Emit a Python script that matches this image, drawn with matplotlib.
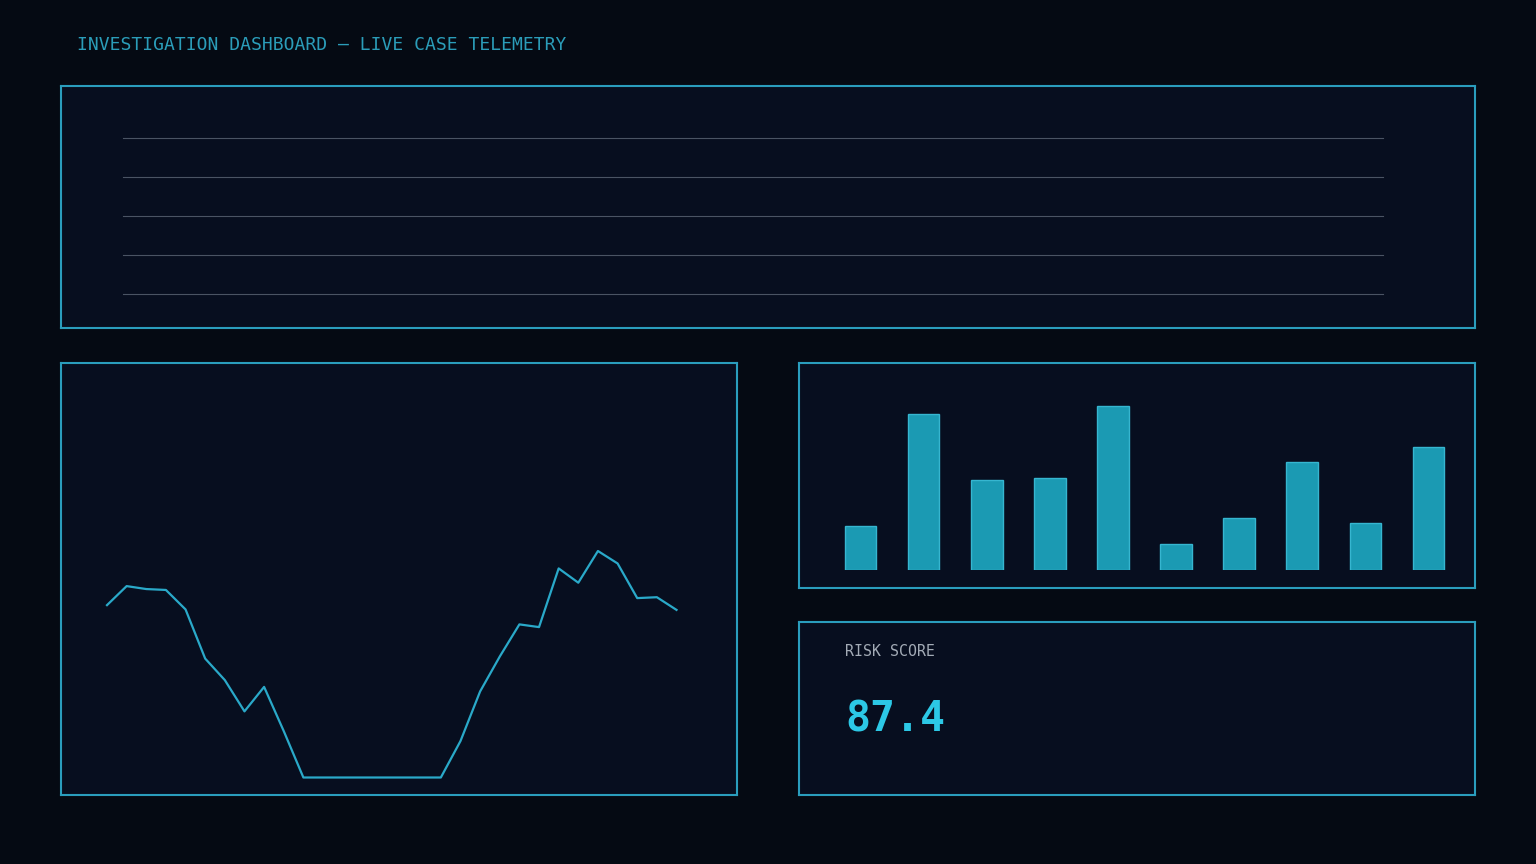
import matplotlib
matplotlib.use("Agg")
import matplotlib.pyplot as plt

W, H = 1536, 864

# data
trend_values = [76.1, 84.5, 83.2, 82.8, 74.2, 52.5, 43.0, 29.2, 40.0, 20.5,
                0, 0, 0, 0, 0, 0, 0, 0, 16.1, 38.0,
                53.4, 67.6, 66.4, 92.3, 86.0, 100.0, 94.5, 79.2, 79.6, 74.0]
bar_values = [27, 95, 55, 56, 100, 16, 32, 66, 29, 75]
grid_levels = [0, 1, 2, 3, 4]
title = "INVESTIGATION DASHBOARD \u2014 LIVE CASE TELEMETRY"
kpi_label = "RISK SCORE"
kpi_value = "87.4"

BG = "#050a13"
PANEL = "#070e1f"
BORDER = "#2a9dbd"
ACCENT = "#2aa9c9"
TITLE_C = "#2b9db9"
BAR = "#1b9ab3"
BAR_EDGE = "#36b6d0"
GRID = "#4a5363"
MONO = ["DejaVu Sans Mono"]


def rect(x0, y0, x1, y1):
    return [x0 / W, 1 - y1 / H, (x1 - x0) / W, (y1 - y0) / H]


def panel(x0, y0, x1, y1):
    ax = fig.add_axes(rect(x0, y0, x1, y1))
    ax.set_facecolor(PANEL)
    ax.set_xticks([])
    ax.set_yticks([])
    for s in ax.spines.values():
        s.set_color(BORDER)
        s.set_linewidth(1.5)
    return ax


def inner(x0, y0, x1, y1):
    ax = fig.add_axes(rect(x0, y0, x1, y1))
    ax.set_facecolor("none")
    ax.set_xticks([])
    ax.set_yticks([])
    for s in ax.spines.values():
        s.set_visible(False)
    return ax


fig = plt.figure(figsize=(W / 100, H / 100), dpi=100, facecolor=BG)

fig.text(77 / W, 1 - 45 / H, title, color=TITLE_C, fontsize=13.0,
         family=MONO, va="center", ha="left")

# top panel: empty grid
panel(61, 86, 1475, 328)
ax_grid = inner(123, 138, 1383, 294)
ax_grid.set_ylim(min(grid_levels), max(grid_levels))
ax_grid.set_yticks(grid_levels)
ax_grid.tick_params(length=0, labelleft=False)
ax_grid.grid(axis="y", color=GRID, linewidth=0.8)
ax_grid.set_axisbelow(True)
for gl in ax_grid.get_ygridlines():
    gl.set_clip_on(False)

# line panel
panel(61, 363, 737, 795)
ax_line = inner(107, 551, 676.5, 777.5)
ax_line.plot(range(len(trend_values)), trend_values, color=ACCENT,
             linewidth=1.6, clip_on=False)
ax_line.set_xlim(0, len(trend_values) - 1)
ax_line.set_ylim(0, 100)

# bar panel
panel(799, 363, 1475, 588)
ax_bar = inner(829, 380, 1460, 570.3)
ax_bar.bar(range(len(bar_values)), bar_values, width=0.5, color=BAR,
           edgecolor=BAR_EDGE, linewidth=1.0)
ax_bar.set_xlim(-0.5, len(bar_values) - 0.5)
ax_bar.set_ylim(0, 116)

# KPI panel
ax_kpi = panel(799, 622, 1475, 795)
ax_kpi.text(46 / 676, 1 - 29 / 173, kpi_label, transform=ax_kpi.transAxes,
            color="#a3abb6", fontsize=10.7, family=MONO, va="center")
ax_kpi.text(46 / 676, 1 - 98 / 173, kpi_value, transform=ax_kpi.transAxes,
            color="#2cc8e6", fontsize=29.9, family=MONO, weight="bold",
            va="center")

fig.savefig("out.png", dpi=100, facecolor=BG)
